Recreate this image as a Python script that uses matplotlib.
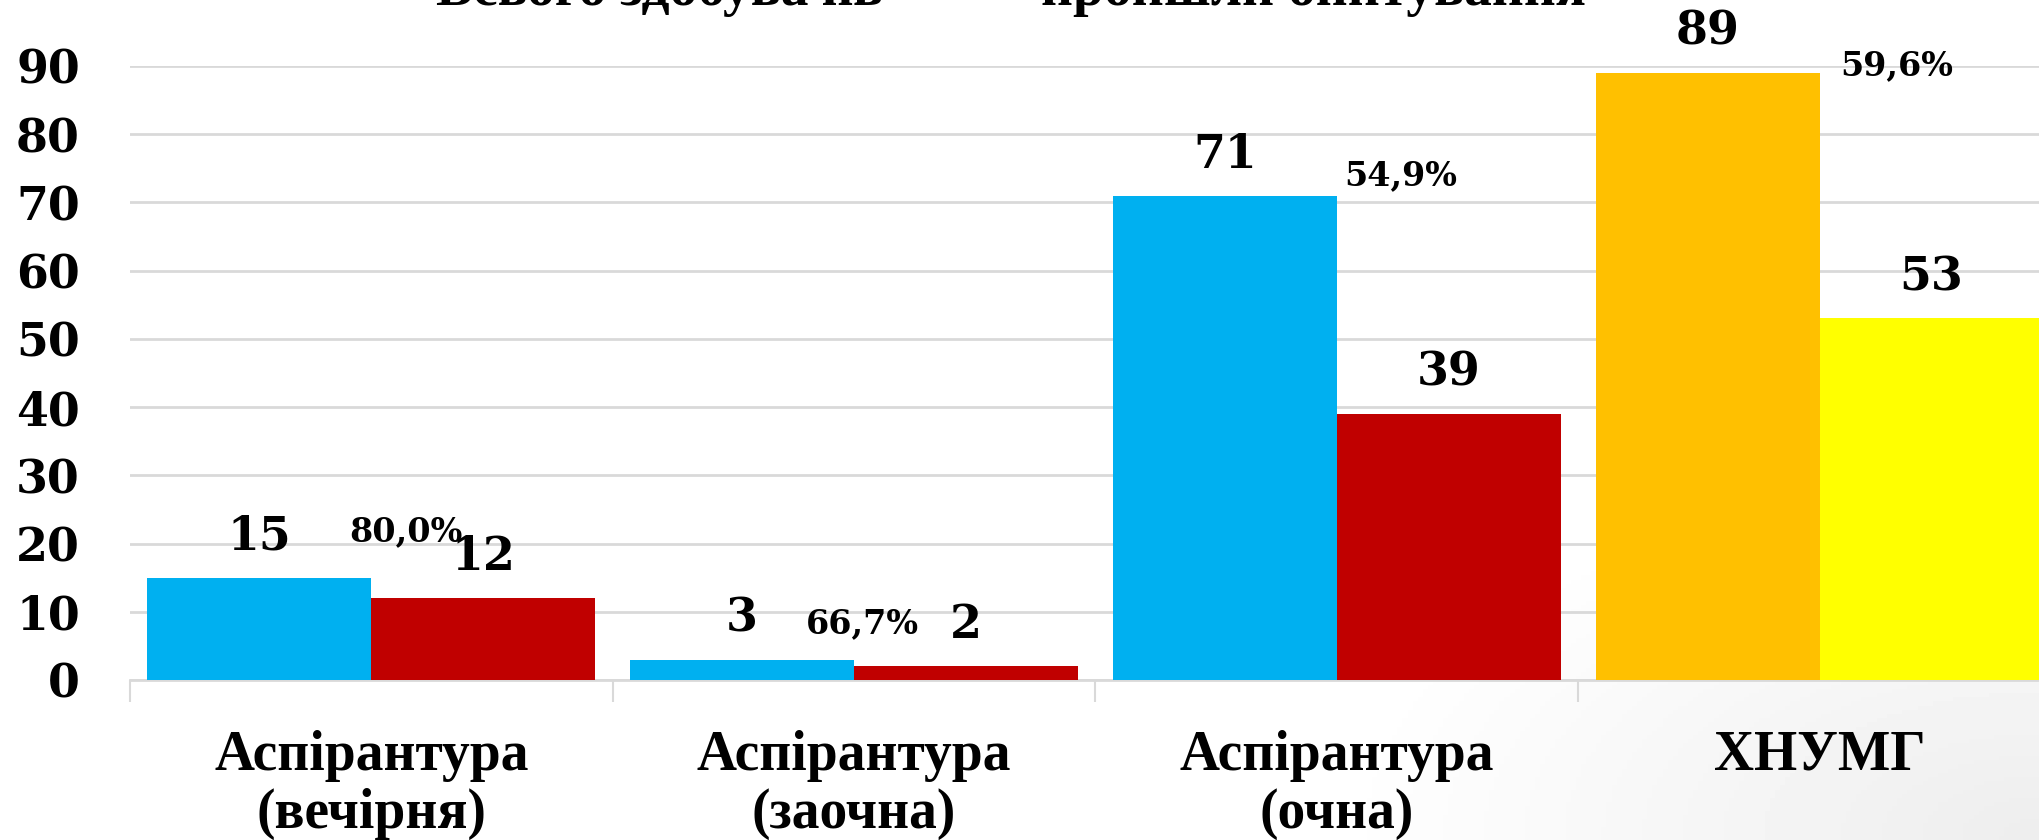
import numpy as np
import matplotlib
matplotlib.use("Agg")
import matplotlib.pyplot as plt

# data
categories = ["Аспірантура\n(вечірня)", "Аспірантура\n(заочна)",
              "Аспірантура\n(очна)", "ХНУМГ"]
total = [15, 3, 71, 89]          # всього здобувачів
surveyed = [12, 2, 39, 53]       # пройшли опитування
legend_labels = ["Всього здобувачів", "пройшли опитування"]

# styles / layout
total_colors = ["#00B0F0", "#00B0F0", "#00B0F0", "#FFC000"]
surveyed_colors = ["#C00000", "#C00000", "#C00000", "#FFFF00"]
pct_offsets = [(0.072, 6.7), (0.018, 5.2), (0.133, 2.9), (0.160, 1.0)]  # (dx, dy over total)

num_font = "DejaVu Serif"
txt_font = "Liberation Serif"

fig = plt.figure(figsize=(20.4, 8.4), dpi=100)

# faint grey shading of the slide in the bottom right corner
bg = fig.add_axes([0, 0, 1, 1], zorder=-10)
gx, gy = np.meshgrid(np.linspace(0, 1, 400), np.linspace(0, 1, 200))
shade = np.clip(1 - np.hypot((1 - gx) / 0.35, gy / 0.45), 0, 1) * 0.07
bg.imshow(1 - shade, cmap="gray", vmin=0, vmax=1, aspect="auto",
          extent=(0, 1, 0, 1), origin="lower")
bg.axis("off")

ax = fig.add_axes([130 / 2040, 160 / 840, 1931 / 2040, 614 / 840])
ax.patch.set_alpha(0)

x = np.arange(len(categories))
w = 0.464
b1 = ax.bar(x - w / 2, total, w, color=total_colors, zorder=3)
b2 = ax.bar(x + w / 2, surveyed, w, color=surveyed_colors, zorder=3)

for bars in (b1, b2):
    for r in bars:
        ax.annotate(str(int(r.get_height())),
                    (r.get_x() + r.get_width() / 2, r.get_height()),
                    xytext=(0, 13), textcoords="offset points",
                    ha="center", va="bottom", fontsize=33,
                    fontweight="bold", family=num_font, zorder=5)

for i, (t, s) in enumerate(zip(total, surveyed)):
    pct = f"{s / t * 100:.1f}%".replace(".", ",")
    dx, dy = pct_offsets[i]
    ax.text(i + dx, t + dy, pct, ha="center", va="center", fontsize=24,
            fontweight="bold", family=num_font, zorder=5)

ax.set_xlim(-0.5, len(categories) - 0.5)
ax.set_ylim(0, 90)
ax.set_yticks(range(0, 91, 10))
ax.yaxis.grid(True, color="#d9d9d9", lw=2, zorder=0)
ax.set_axisbelow(True)

for sp in ("top", "right", "left"):
    ax.spines[sp].set_visible(False)
ax.spines["bottom"].set_color("#d9d9d9")
ax.spines["bottom"].set_linewidth(2)

ax.tick_params(axis="y", length=0, pad=36)
for lab in ax.get_yticklabels():
    lab.set_fontsize(33)
    lab.set_fontweight("bold")
    lab.set_family(num_font)

ax.set_xticks(x)
ax.set_xticklabels(categories, fontsize=40, fontweight="bold",
                   family=txt_font, linespacing=1.15)
ax.tick_params(axis="x", length=0, pad=36)
ax.set_xticks(np.arange(-0.5, len(categories)), minor=True)
ax.tick_params(axis="x", which="minor", length=16, width=1.5,
               color="#d9d9d9", direction="out")

# legend line at the top, cut off by the frame edge as in the source slide
fig.text(436 / 2040, 0.994, legend_labels[0], fontsize=40, fontweight="bold",
         family=txt_font, ha="left", va="baseline")
fig.text(1041 / 2040, 0.994, legend_labels[1], fontsize=40, fontweight="bold",
         family=txt_font, ha="left", va="baseline")

fig.savefig("out.png", dpi=100)
